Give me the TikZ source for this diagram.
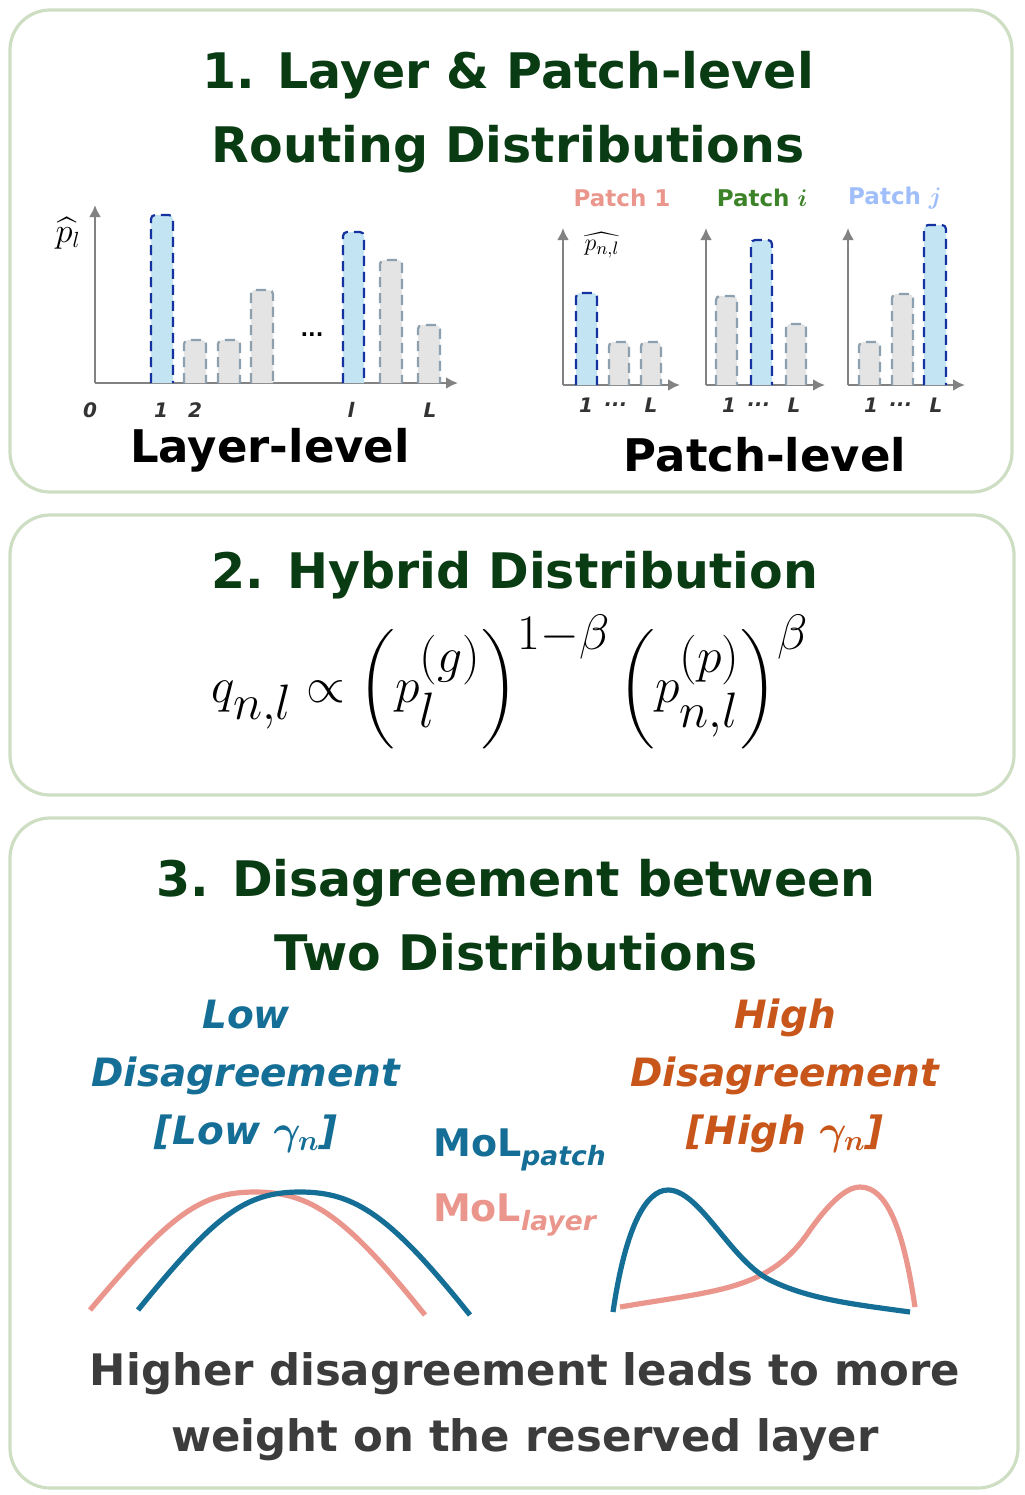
\documentclass[tikz,border=0pt]{standalone}
\usepackage{amsmath}
\usepackage{fontspec}
\setmainfont{DejaVu Sans}
\begin{document}
\begin{tikzpicture}[x=0.5pt,y=-0.5pt,
 panel/.style={draw=panelc,line width=1.6pt,rounded corners=20pt,fill=white},
 ttl/.style={font=\fontsize{24.5}{37}\selectfont\bfseries,text=titc,align=center},
 ax/.style={draw=axc,line width=1.2pt,-{Latex[length=6pt,width=6pt]}},
 bb/.style={fill=barb,draw=bard,dash pattern=on 5pt off 3pt,line width=1.1pt},
 bg/.style={fill=barg,draw=bargd,dash pattern=on 5pt off 3pt,line width=1.1pt},
 tk/.style={font=\fontsize{10}{12}\selectfont\bfseries\itshape,text=black!80},
 curve/.style={line width=2.6pt},
]
\definecolor{panelc}{RGB}{205,222,195}
\definecolor{titc}{RGB}{10,60,20}
\definecolor{axc}{RGB}{130,130,130}
\definecolor{barb}{RGB}{195,228,242}
\definecolor{bard}{RGB}{20,50,160}
\definecolor{barg}{RGB}{228,228,228}
\definecolor{bargd}{RGB}{140,160,175}
\definecolor{salm}{RGB}{235,150,140}
\definecolor{lowb}{RGB}{20,110,150}
\definecolor{higho}{RGB}{200,85,25}
\usetikzlibrary{arrows.meta}
\useasboundingbox (0,0) rectangle (1024,1495);
% panels
\draw[panel] (10,10) rectangle (1012,492);
\draw[panel] (10,515) rectangle (1014,795);
\draw[panel] (10,818) rectangle (1018,1488);
\node[ttl] (t1) at (508,112) {1. Layer \& Patch-level\\Routing Distributions};
% layer-level chart
\draw[ax] (95,383) -- (458,383);
\draw[ax] (95,383) -- (95,205);
\foreach \a/\b/\t/\s in {151/173/215/bb,184/206/340/bg,218/240/340/bg,251/273/290/bg,343/364/232/bb,380/402/260/bg,418/440/325/bg}
  \draw[\s,rounded corners=2pt] (\a,383) -- (\a,\t) -- (\b,\t) -- (\b,383);
\node (dots) at (312,335) {\bfseries ...};
\node (pl) at (68,233) {\fontsize{16}{18}\selectfont$\widehat{p}_l$};
\foreach \x/\l in {90/0,161/1,195/2,351/l,430/L} \node[tk] at (\x,410) {\l};
\node[font=\fontsize{22.5}{28}\selectfont\bfseries] (ll) at (270,450) {Layer-level};
% patch charts
\foreach \o/\e/\bars in {563/680/{576/597/293/bb,609/629/342/bg,641/661/342/bg},706/825/{716/737/296/bg,751/772/240/bb,786/806/324/bg},848/965/{859/880/342/bg,892/913/294/bg,924/946/225/bb}}{
  \draw[ax] (\o,385) -- (\e,385);
  \draw[ax] (\o,385) -- (\o,228);
  \foreach \a/\b/\t/\s in \bars
   \draw[\s,rounded corners=2pt] (\a,385) -- (\a,\t) -- (\b,\t) -- (\b,385);
  \node[tk] at (\o+23,405) {1};
  \node[tk] at (\o+53,405) {...};
  \node[tk] at (\o+88,405) {L};
}
\node (pnl) at (602,245) {\fontsize{13}{15}\selectfont$\widehat{p_{n,l}}$};
\node[font=\fontsize{11.5}{14}\selectfont\bfseries,text=salm] (p1) at (622,198) {Patch 1};
\node[font=\fontsize{11.5}{14}\selectfont\bfseries,text={rgb,255:red,60;green,130;blue,40}] (pi) at (762,198) {Patch $\boldsymbol{i}$};
\node[font=\fontsize{11.5}{14}\selectfont\bfseries,text={rgb,255:red,160;green,190;blue,250}] (pj) at (895,198) {Patch $\boldsymbol{j}$};
\node[font=\fontsize{22.5}{28}\selectfont\bfseries] (pl2) at (765,455) {Patch-level};
% section 2
\node[ttl] (t2) at (515,575) {2. Hybrid Distribution};
\node (eq) at (510,682) {\fontsize{46}{52}\selectfont$q_{n,l}\propto\left(p_l^{(g)}\right)^{1-\beta}\left(p_{n,l}^{(p)}\right)^{\beta}$};
% section 3
\node[ttl] (t3) at (516,915) {3. Disagreement between\\Two Distributions};
\node[font=\fontsize{19.5}{29}\selectfont\bfseries\itshape,text=lowb,align=center] (low) at (246,1076) {Low\\Disagreement\\{}[Low $\boldsymbol{\gamma_n}$]};
\node[font=\fontsize{19.5}{29}\selectfont\bfseries\itshape,text=higho,align=center] (high) at (785,1076) {High\\Disagreement\\{}[High $\boldsymbol{\gamma_n}$]};
\node[font=\fontsize{19}{22}\selectfont\bfseries,text=lowb] (mp) at (520,1150) {MoL\textsubscript{\itshape patch}};
\node[font=\fontsize{19}{22}\selectfont\bfseries,text=salm] (ml) at (515,1215) {MoL\textsubscript{\itshape layer}};
\draw[curve,salm] (90,1310) .. controls (170,1215) and (200,1192) .. (255,1192) .. controls (310,1192) and (345,1215) .. (425,1315);
\draw[curve,lowb] (138,1310) .. controls (215,1215) and (245,1192) .. (300,1192) .. controls (355,1192) and (390,1215) .. (470,1315);
\draw[curve,salm] (620,1307) .. controls (720,1290) and (770,1290) .. (810,1230) .. controls (835,1195) and (850,1187) .. (860,1187) .. controls (890,1187) and (905,1240) .. (915,1307);
\draw[curve,lowb] (613,1312) .. controls (625,1230) and (645,1190) .. (668,1190) .. controls (700,1190) and (730,1260) .. (770,1280) .. controls (810,1300) and (860,1305) .. (910,1312);
\node[font=\fontsize{21.7}{33}\selectfont\bfseries,text={rgb,255:red,60;green,60;blue,60},align=center] (bot) at (525,1407) {Higher disagreement leads to more\\weight on the reserved layer};
\end{tikzpicture}
\end{document}
